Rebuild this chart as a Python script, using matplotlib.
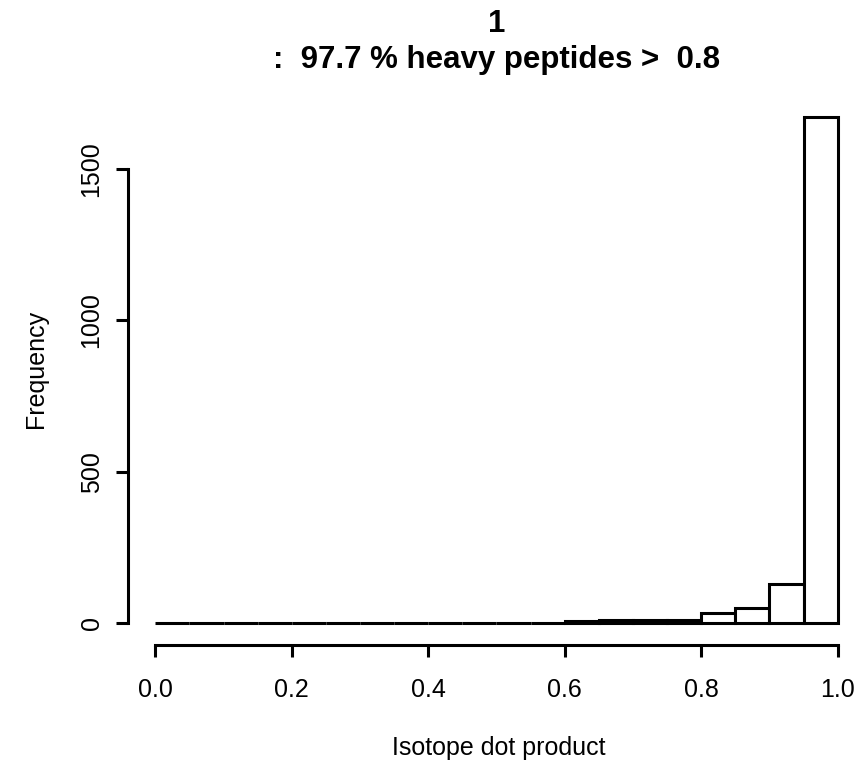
import numpy as np
import matplotlib
matplotlib.use("Agg")
import matplotlib.pyplot as plt

plt.rcParams['font.family'] = ['Liberation Sans', 'DejaVu Sans']

# histogram of isotope dot product, bins of 0.05
bin_edges = [0.00, 0.05, 0.10, 0.15, 0.20, 0.25, 0.30, 0.35, 0.40, 0.45,
             0.50, 0.55, 0.60, 0.65, 0.70, 0.75, 0.80, 0.85, 0.90, 0.95, 1.00]
counts = [0, 0, 0, 0, 0, 0, 0, 0, 0, 0,
          0, 0, 9, 10, 11, 13, 33, 50, 129, 1672]
x_ticks = [0.0, 0.2, 0.4, 0.6, 0.8, 1.0]
y_ticks = [0, 500, 1000, 1500]
title_top = "1"
title_bottom = ":  97.7 % heavy peptides >  0.8"

W, H = 868, 761
fig = plt.figure(figsize=(W / 100, H / 100), dpi=100)
ax = fig.add_axes([128 / W, 1 - 645 / H, (865 - 128) / W, (645 - 95) / H])

lefts = np.array(bin_edges[:-1])
widths = np.diff(bin_edges)
ax.bar(lefts, counts, width=widths, align='edge', facecolor='white',
       edgecolor='black', linewidth=2.2)

ax.set_xlim(-0.04, 1.04)
ax.set_ylim(-71, 1743)

for s in ['top', 'right']:
    ax.spines[s].set_visible(False)
ax.spines['left'].set_bounds(0, 1500)
ax.spines['bottom'].set_bounds(0, 1)
for s in ['left', 'bottom']:
    ax.spines[s].set_linewidth(2.2)

ax.set_xticks(x_ticks)
ax.set_xticklabels([f"{v:.1f}" for v in x_ticks])
ax.set_yticks(y_ticks)
ax.set_yticklabels([str(v) for v in y_ticks], rotation=90, va='center')
ax.tick_params(axis='both', length=8.6, width=2.2, labelsize=18)
ax.tick_params(axis='x', pad=15)
ax.tick_params(axis='y', pad=9)

fig.text(388 / W + (610 - 388) / 2 / W, 1 - 755 / H, "Isotope dot product",
         ha='center', va='baseline', fontsize=18)
fig.text(36 / W, 1 - 369 / H, "Frequency", ha='center', va='center',
         rotation=90, fontsize=18)

cx = (128 + 865) / 2 / W
fig.text(cx, 1 - 32 / H, title_top, ha='center', va='baseline',
         fontsize=22.5, fontweight='bold')
fig.text(cx, 1 - 68 / H, title_bottom, ha='center', va='baseline',
         fontsize=22.5, fontweight='bold')

fig.savefig("out.png", dpi=100)
